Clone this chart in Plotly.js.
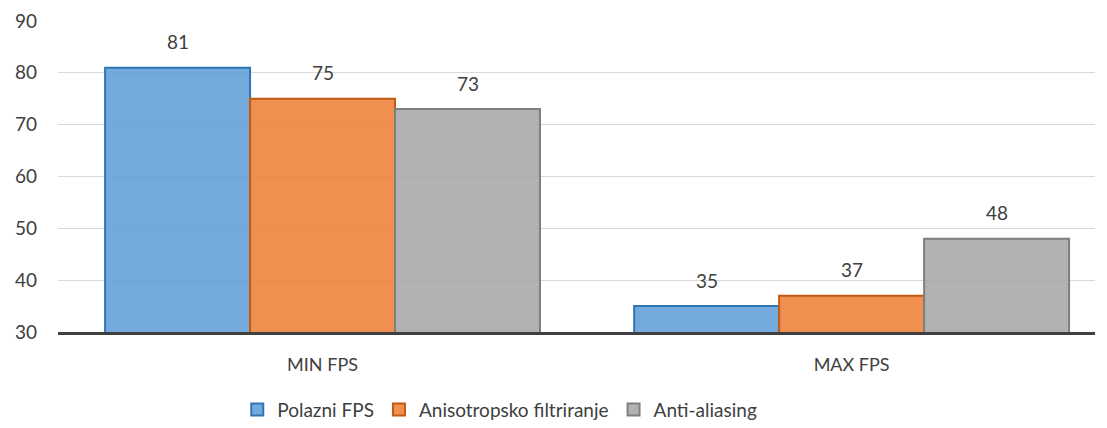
<!DOCTYPE html>
<html><head><meta charset="utf-8">
<script src="https://cdn.plot.ly/plotly-3.0.1.min.js"></script>
<style>html,body{margin:0;padding:0;background:#fff}#chart{width:1107px;height:428px}</style>
</head><body><div id="chart"></div>
<script>
const categories = ["MIN FPS", "MAX FPS"];
const seriesNames = ["Polazni FPS", "Anisotropsko filtriranje", "Anti-aliasing"];
const polazni = [81, 35];
const anisotropsko = [75, 37];
const antialiasing = [73, 48];
const yTicks = [30, 40, 50, 60, 70, 80, 90];

const fills = ["rgba(91,155,213,0.85)", "rgba(237,125,49,0.85)", "rgba(165,165,165,0.85)"];
const lines = ["#2E75B6", "#C55A11", "#7F7F7F"];
const values = [polazni, anisotropsko, antialiasing];
const font = {family: "Lato, Open Sans, sans-serif", color: "#404040"};
const bargap = 0.178;
const barW = (1 - bargap) / values.length;

const traces = values.map((v, i) => ({
  type: "bar",
  name: seriesNames[i],
  x: categories,
  y: v,
  base: 0,
  marker: {color: fills[i], line: {color: lines[i], width: 2}},
  hoverinfo: "skip"
}));

const annotations = [];
values.forEach((v, i) => {
  v.forEach((val, c) => {
    annotations.push({
      xref: "x", yref: "y",
      x: c + (i - (values.length - 1) / 2) * barW,
      y: val, yshift: 26, yanchor: "middle", xanchor: "center",
      text: String(val), showarrow: false,
      font: Object.assign({}, font, {size: 19})
    });
  });
});

const layout = {
  width: 1107, height: 428,
  margin: {l: 58, r: 12, t: 21, b: 96, autoexpand: false},
  paper_bgcolor: "#fff", plot_bgcolor: "#fff",
  barmode: "group", bargap: bargap, bargroupgap: 0,
  font: font,
  showlegend: true,
  annotations: annotations,
  legend: {orientation: "h", x: 0.426, xanchor: "center", y: -0.25, yanchor: "middle",
           font: Object.assign({}, font, {size: 19}), traceorder: "normal"},
  xaxis: {type: "category", range: [-0.5, 1.46], showgrid: false, zeroline: false,
          showline: true, linecolor: "#404040", linewidth: 3, ticks: "",
          ticklabelstandoff: 14, tickfont: Object.assign({}, font, {size: 18}), fixedrange: true},
  yaxis: {range: [30, 90], tickvals: yTicks, showgrid: true, gridcolor: "#D9D9D9", gridwidth: 1,
          zeroline: false, showline: false, ticks: "", ticklabelstandoff: 20,
          tickfont: Object.assign({}, font, {size: 19}), fixedrange: true}
};

Plotly.newPlot("chart", traces, layout, {displayModeBar: false, staticPlot: true});
</script></body></html>
